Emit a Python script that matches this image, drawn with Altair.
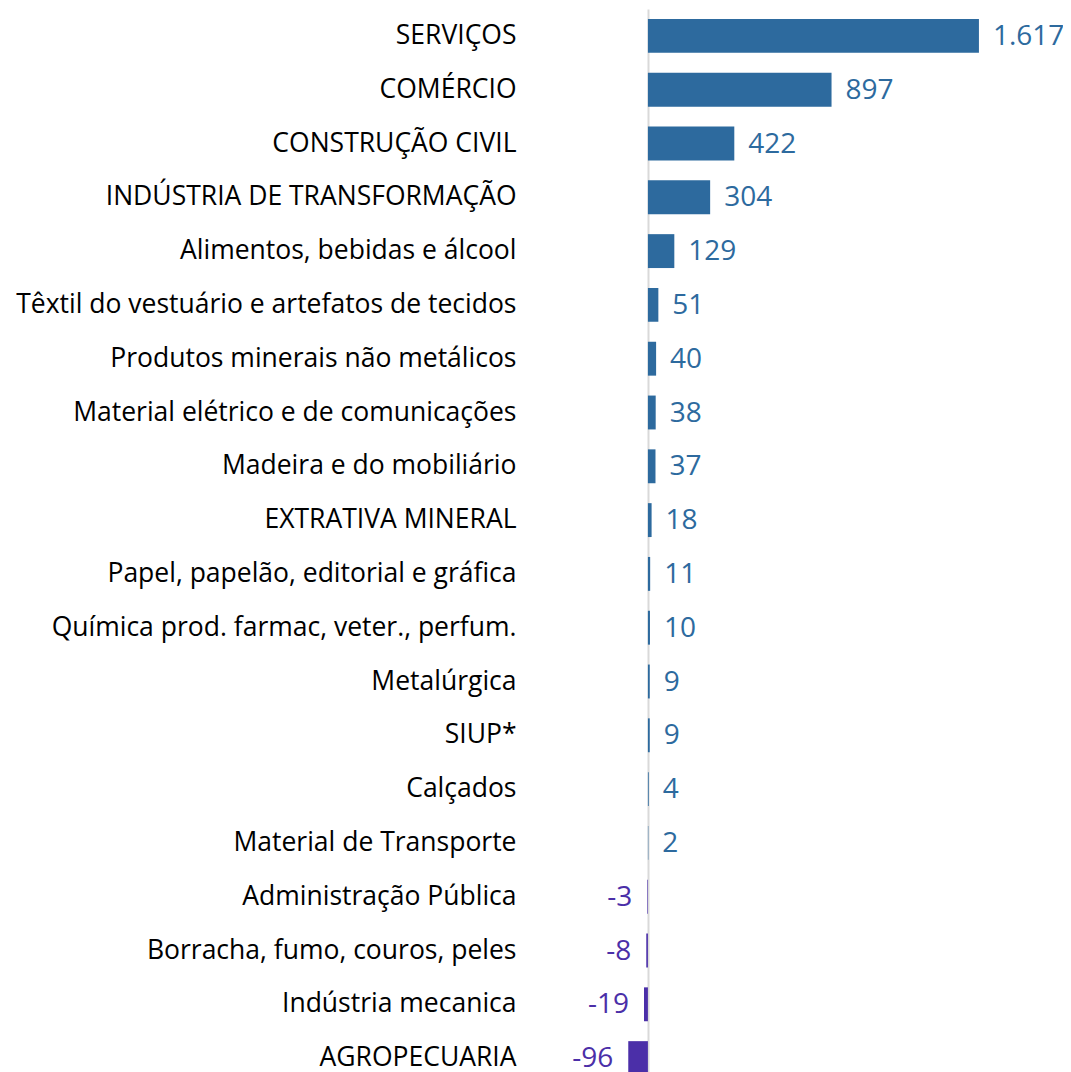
import altair as alt
import pandas as pd

categories = [
    "SERVIÇOS", "COMÉRCIO", "CONSTRUÇÃO CIVIL", "INDÚSTRIA DE TRANSFORMAÇÃO",
    "Alimentos, bebidas e álcool", "Têxtil do vestuário e artefatos de tecidos",
    "Produtos minerais não metálicos", "Material elétrico e de comunicações",
    "Madeira e do mobiliário", "EXTRATIVA MINERAL",
    "Papel, papelão, editorial e gráfica", "Química prod. farmac, veter., perfum.",
    "Metalúrgica", "SIUP*", "Calçados", "Material de Transporte",
    "Administração Pública", "Borracha, fumo, couros, peles",
    "Indústria mecanica", "AGROPECUARIA",
]
values = [1617, 897, 422, 304, 129, 51, 40, 38, 37, 18, 11, 10, 9, 9, 4, 2, -3, -8, -19, -96]

df = pd.DataFrame({"cat": categories, "val": values})
df["lbl"] = [f"{v:,}".replace(",", ".") for v in values]
df["sign"] = ["pos" if v > 0 else "neg" for v in values]

BLUE = "#2d6a9e"
PURPLE = "#4b2fa8"
FONT = "Open Sans"

y = alt.Y(
    "cat:N", sort=categories,
    scale=alt.Scale(paddingInner=0.37, paddingOuter=0.185),
    axis=alt.Axis(title=None, ticks=False, domain=False, labelPadding=14,
                  labelFont=FONT, labelFontSize=26.5, labelColor="#000000",
                  labelLimit=0),
)
x = alt.X(
    "val:Q", scale=alt.Scale(domain=[-576, 2013], nice=False, zero=False),
    axis=alt.Axis(values=[0], grid=True, gridColor="#d9d9d9", gridWidth=2,
                  labels=False, ticks=False, domain=False, title=None),
)
color = alt.Color("sign:N", scale=alt.Scale(domain=["pos", "neg"], range=[BLUE, PURPLE]), legend=None)

base = alt.Chart(df)
bars = base.mark_bar().encode(y=y, x=x, color=color)
pos = base.transform_filter(alt.datum.val > 0).mark_text(
    align="left", baseline="middle", dx=14, dy=1, font=FONT, fontSize=28
).encode(y=y, x=x, text="lbl:N", color=color)
neg = base.transform_filter(alt.datum.val < 0).mark_text(
    align="right", baseline="middle", dx=-15, dy=1, font=FONT, fontSize=28
).encode(y=y, x=x, text="lbl:N", color=color)

chart = alt.layer(bars, pos, neg).properties(
    width=530, height=1076,
    padding={"left": 522, "top": 1, "right": 3, "bottom": 0},
    autosize=alt.AutoSizeParams(type="none"),
).configure_view(stroke=None)

chart.save("out.html", embed_options={"renderer": "svg", "actions": False})
